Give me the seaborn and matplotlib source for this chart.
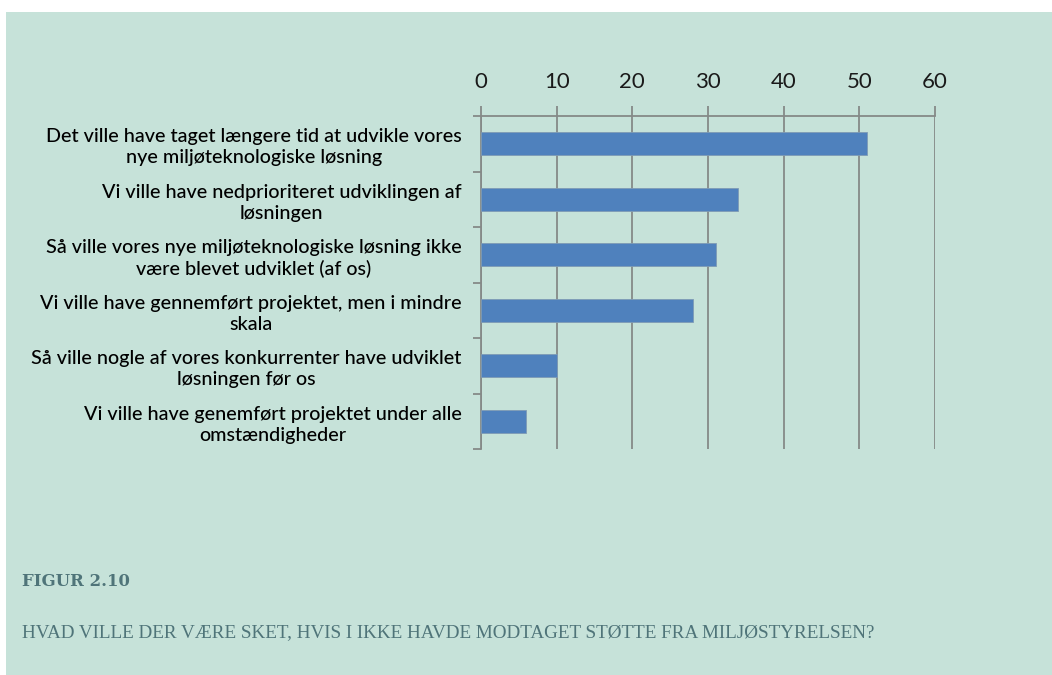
import matplotlib
matplotlib.use("Agg")
import matplotlib.pyplot as plt
from matplotlib.patches import Rectangle
from matplotlib.ticker import FixedLocator
import seaborn as sns
import pandas as pd

# Survey answers (wrapped for the category axis) and share of respondents
answers = [
    "Det ville have taget længere tid at udvikle vores\nnye miljøteknologiske løsning",
    "Vi ville have nedprioriteret udviklingen af\nløsningen",
    "Så ville vores nye miljøteknologiske løsning ikke\nvære blevet udviklet (af os)",
    "Vi ville have gennemført projektet, men i mindre\nskala",
    "Så ville nogle af vores konkurrenter have udviklet\nløsningen før os",
    "Vi ville have genemført projektet under alle\nomstændigheder",
]
shares = [51, 34, 31, 28, 10, 6]
x_ticks = [0, 10, 20, 30, 40, 50, 60]

fig_title = "FIGUR 2.10"
fig_question = "HVAD VILLE DER VÆRE SKET, HVIS I IKKE HAVDE MODTAGET STØTTE FRA MILJØSTYRELSEN?"

panel = "#c6e2d9"
grid_col = "#858a88"
bar_col = "#4f81bd"
caption_col = "#4f7479"

sns.set_theme(style="white")
plt.rcParams["font.family"] = ["Lato", "DejaVu Sans"]

W, H = 1052, 675
fig = plt.figure(figsize=(W / 100, H / 100), dpi=100, facecolor="white")
fig.patches.append(Rectangle((6 / W, 0), 1 - 6 / W, 1 - 12 / H,
                             transform=fig.transFigure, facecolor=panel,
                             edgecolor="none", zorder=-10))

ax = fig.add_axes([481 / W, 1 - 449 / H, (935 - 481) / W, (449 - 116) / H])
ax.set_facecolor("none")

df = pd.DataFrame({"answer": answers, "share": shares})
sns.barplot(data=df, x="share", y="answer", orient="h", color=bar_col,
            saturation=1, width=0.42, edgecolor="#7f9bb5", linewidth=0.6,
            ax=ax, zorder=3)

ax.set_xlim(0, 60)
ax.set_ylim(len(answers) - 0.5, -0.5)
ax.set_xlabel("")
ax.set_ylabel("")

# value axis on top with vertical gridlines
ax.xaxis.tick_top()
ax.set_xticks(x_ticks)
ax.tick_params(axis="x", which="major", top=True, bottom=False, direction="out",
               length=7.5, width=1.3, color=grid_col, pad=9.5, labelsize=16,
               labelcolor="#1a1a1a")
ax.grid(axis="x", color=grid_col, linewidth=1.3, zorder=0)
ax.set_axisbelow(True)

# category axis: ticks between categories, wrapped labels
ax.yaxis.set_minor_locator(FixedLocator([i - 0.5 for i in range(len(answers) + 1)]))
ax.tick_params(axis="y", which="minor", left=True, direction="out",
               length=5.5, width=1.3, color=grid_col)
ax.tick_params(axis="y", which="major", left=False, length=0, pad=14,
               labelsize=14.2, labelcolor="#000000")
for lab in ax.get_yticklabels():
    lab.set_multialignment("center")
    lab.set_linespacing(1.28)
    lab.set_fontweight("medium")

for side in ("bottom", "right"):
    ax.spines[side].set_visible(False)
for side in ("top", "left"):
    ax.spines[side].set_visible(True)
    ax.spines[side].set_color(grid_col)
    ax.spines[side].set_linewidth(1.3)

fig.text(22 / W, 1 - 581 / H, fig_title, family=["DejaVu Serif"], weight="bold",
         fontsize=11.9, color=caption_col, va="center", ha="left")
fig.text(22 / W, 1 - 633 / H, fig_question, family=["Liberation Serif", "DejaVu Serif"],
         fontsize=13.8, color=caption_col, va="center", ha="left")

fig.savefig("out.png", dpi=100, facecolor="white")
